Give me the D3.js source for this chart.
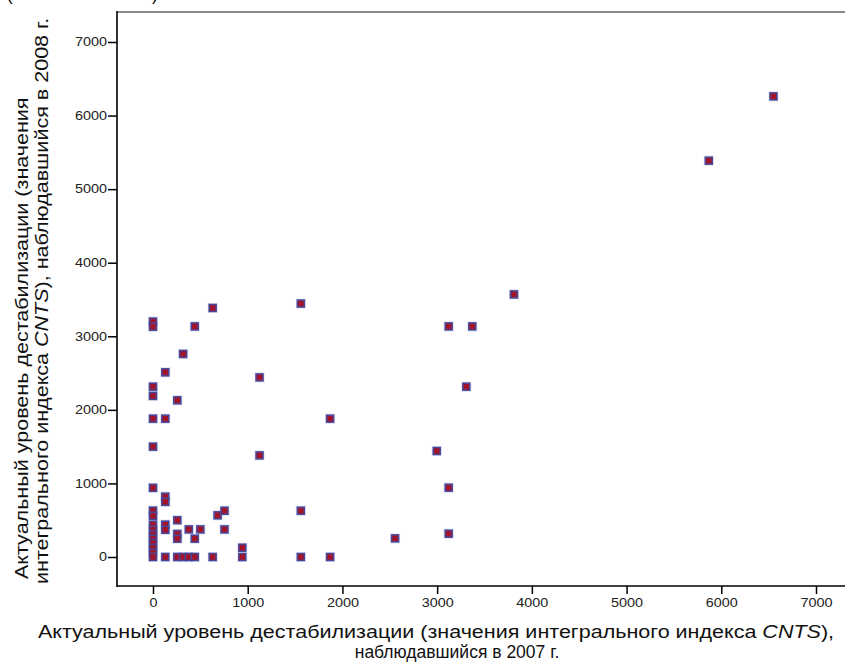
<!DOCTYPE html>
<html>
<head>
<meta charset="utf-8">
<script src="https://cdn.jsdelivr.net/npm/d3@7"></script>
<style>
  body { margin: 0; background: #fff; }
  svg { display: block; font-family: "Liberation Sans", Arial, sans-serif; }
</style>
</head>
<body>
<svg id="chart" width="845" height="668"></svg>
<script>
// values: CNTS index 2007 (x) vs 2008 (y)
let cnts2007 = [
  0, 0, 0, 0, 0, 0, 0, 0, 0, 0, 0, 0, 0, 0, 0, 0, 0,
  130, 130, 130, 130, 130, 130, 130,
  257, 257, 257, 257, 257,
  318, 318,
  378, 378,
  441, 441, 441,
  500,
  630, 630,
  682,
  755, 755,
  943, 943,
  1125, 1125,
  1561, 1561, 1561,
  1870, 1870,
  2556, 2996, 3122, 3122, 3122, 3308, 3371, 3811, 5868, 6551
]
let cnts2008 = [
  3200, 3130, 2315, 2190, 1880, 1500, 940, 630, 560, 440, 370, 310, 250, 190, 125, 60, 0,
  2510, 1880, 820, 750, 440, 370, 0,
  2130, 500, 313, 249, 0,
  2760, 0,
  375, 0,
  3134, 249, 0,
  375,
  3385, 0,
  566,
  629, 375,
  126, 0,
  2441, 1381,
  3445, 629, 0,
  1880, 0,
  253, 1441, 3134, 942, 317, 2315, 3134, 3569, 5387, 6261
]
let xTicks = [0, 1000, 2000, 3000, 4000, 5000, 6000, 7000]
let yTicks = [0, 1000, 2000, 3000, 4000, 5000, 6000, 7000]

let frame = {left: 117, top: 12, bottom: 586, right: 846}
let pad = {left: 36, right: 30, top: 30, bottom: 29}
let stretch = 1.23   // the titles are drawn wider than the font

let svg = d3.select('#chart')

let x = d3.scaleLinear()
    .domain([0, 7000])
    .range([frame.left + pad.left, frame.right - pad.right])

let y = d3.scaleLinear()
    .domain([0, 7000])
    .range([frame.bottom - pad.bottom, frame.top + pad.top])

// fragment of a line cut off at the top of the picture
svg.append('text').attr('x', 7).attr('y', 1).style('font-size', '17px').text('(')
svg.append('text').attr('x', 152).attr('y', 1).style('font-size', '17px').text(')')

// frame: grey top edge, black left and bottom axes
svg.append('line')
    .attr('x1', frame.left).attr('x2', frame.right)
    .attr('y1', frame.top).attr('y2', frame.top)
    .attr('stroke', '#8a8a8a').attr('stroke-width', 2)

let yAxis = d3.axisLeft(y).tickValues(yTicks).tickSize(9).tickPadding(1).tickFormat(d3.format('d'))
let gy = svg.append('g')
    .attr('transform', 'translate(' + frame.left + ',0)')
    .call(yAxis)
gy.select('.domain').remove()
gy.selectAll('.tick line').attr('stroke', '#000').attr('stroke-width', 1.5)
gy.selectAll('.tick text').style('font-size', '12px').attr('fill', '#222')
    .attr('x', -10 / 1.2)
    .attr('transform', 'scale(1.2,1)')

let xAxis = d3.axisBottom(x).tickValues(xTicks).tickSize(8).tickPadding(4).tickFormat(d3.format('d'))
let gx = svg.append('g')
    .attr('transform', 'translate(0,' + frame.bottom + ')')
    .call(xAxis)
gx.select('.domain').remove()
gx.selectAll('.tick line').attr('stroke', '#000').attr('stroke-width', 1.5)
gx.selectAll('.tick text').style('font-size', '12px').attr('fill', '#222')
    .attr('transform', 'scale(1.2,1)')

svg.append('line')
    .attr('x1', frame.left).attr('x2', frame.left)
    .attr('y1', frame.top - 1).attr('y2', frame.bottom + 1)
    .attr('stroke', '#000').attr('stroke-width', 1.6)
svg.append('line')
    .attr('x1', frame.left).attr('x2', frame.right)
    .attr('y1', frame.bottom).attr('y2', frame.bottom)
    .attr('stroke', '#000').attr('stroke-width', 1.6)

// markers
let points = cnts2007.map((v, i) => ({x: v, y: cnts2008[i]}))
let mk = 7
svg.append('g').selectAll('rect.halo')
    .data(points)
    .enter().append('rect')
    .attr('x', d => x(d.x) - mk / 2 - 1.5)
    .attr('y', d => y(d.y) - mk / 2 - 1.5)
    .attr('width', mk + 3).attr('height', mk + 3)
    .attr('fill', '#c8c8e4').attr('opacity', 0.6)
svg.append('g').selectAll('rect.mark')
    .data(points)
    .enter().append('rect')
    .attr('x', d => x(d.x) - mk / 2)
    .attr('y', d => y(d.y) - mk / 2)
    .attr('width', mk).attr('height', mk)
    .attr('fill', '#a3142a')
    .attr('stroke', '#47479a').attr('stroke-width', 1.5)

// axis titles
let yTitle = svg.append('text')
    .attr('transform', 'rotate(-90) scale(' + stretch + ',1)')
    .attr('text-anchor', 'start')
    .style('font-size', '17.5px')
    .attr('fill', '#111')
yTitle.append('tspan').attr('x', -579 / stretch).attr('y', 28)
    .text('Актуальный уровень дестабилизации (значения')
let yl2 = yTitle.append('tspan').attr('x', -584 / stretch).attr('y', 48)
yl2.append('tspan').text('интегрального индекса ')
yl2.append('tspan').style('font-style', 'italic').text('CNTS')
yl2.append('tspan').text('), наблюдавшийся в 2008 г.')

let xl1 = svg.append('text')
    .attr('transform', 'translate(436,638) scale(' + stretch + ',1)')
    .attr('text-anchor', 'middle')
    .style('font-size', '17.5px')
    .attr('fill', '#111')
xl1.append('tspan').text('Актуальный уровень дестабилизации (значения интегрального индекса ')
xl1.append('tspan').style('font-style', 'italic').text('CNTS')
xl1.append('tspan').text('),')
svg.append('text')
    .attr('transform', 'translate(457,658)')
    .attr('text-anchor', 'middle')
    .style('font-size', '17.5px')
    .attr('fill', '#111')
    .text('наблюдавшийся в 2007 г.')
</script>
</body>
</html>
